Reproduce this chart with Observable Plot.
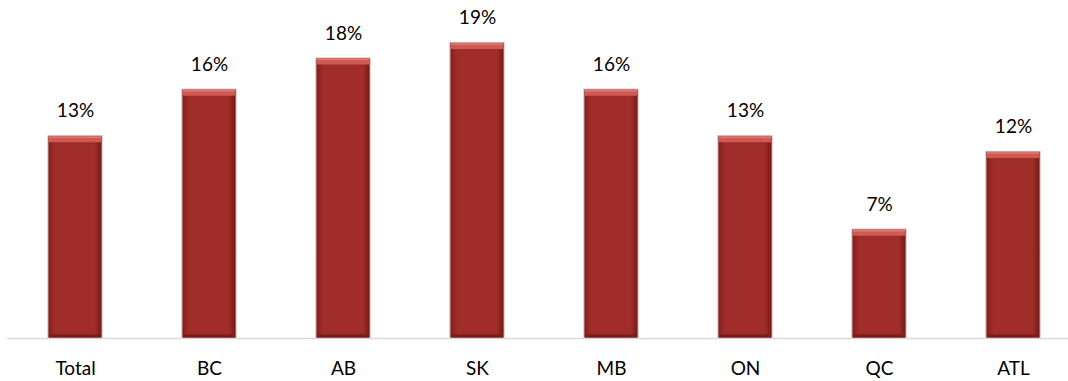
<!DOCTYPE html>
<html>
<head>
<meta charset="utf-8">
<script src="https://cdn.jsdelivr.net/npm/d3@7"></script>
<script src="https://cdn.jsdelivr.net/npm/@observablehq/plot@0.6"></script>
<style>
  html, body { margin: 0; padding: 0; background: #fff; }
  #chart svg { display: block; }
</style>
</head>
<body>
<div id="chart"></div>
<script>
const regions = ["Total", "BC", "AB", "SK", "MB", "ON", "QC", "ATL"];
const shares = [13, 16, 18, 19, 16, 13, 7, 12];
const labels = ["13%", "16%", "18%", "19%", "16%", "13%", "7%", "12%"];

const data = regions.map((r, i) => ({region: r, value: shares[i], label: labels[i]}));

const font = "Lato, 'Open Sans', sans-serif";

const chart = Plot.plot({
  width: 1068,
  height: 381,
  marginTop: 27,
  marginBottom: 43,
  marginLeft: 7,
  marginRight: 0,
  style: {fontFamily: font, background: "#fff"},
  x: {domain: regions, range: [6.4, 1080.6], paddingInner: 0.6, paddingOuter: 0.3, align: 0.5, label: null},
  y: {domain: [0, 20], axis: null},
  marks: [
    Plot.barY(data, {x: "region", y: "value", fill: "url(#barGrad)", stroke: "#c9a7a4", strokeWidth: 1}),
    Plot.tickY(data, {x: "region", y: "value", stroke: "#cf5a53", strokeWidth: 6, dy: 3, inset: 1}),
    Plot.tickY(data, {x: "region", y: "value", stroke: "#e07a72", strokeWidth: 1.5, dy: 1, inset: 1}),
    Plot.tickY(data, {x: "region", y: 0, stroke: "#7a1c1a", strokeWidth: 4, dy: -2, inset: 1}),
    Plot.text(data, {x: "region", y: "value", text: "label", dy: -25, fontSize: 19, fill: "#000", fontFamily: font}),
    Plot.ruleY([0], {stroke: "#d9d9d9", strokeWidth: 1.5}),
    Plot.axisX({tickSize: 0, tickPadding: 0, dy: 23, fontSize: 19, fill: "#000", fontFamily: font, label: null})
  ]
});

const defs = d3.select(chart).insert("defs", ":first-child");
const g = defs.append("linearGradient").attr("id", "barGrad").attr("x1", "0").attr("x2", "1").attr("y1", "0").attr("y2", "0");
[["0%", "#7d1e1c"], ["10%", "#9a2a27"], ["14%", "#a02d29"], ["86%", "#a02d29"], ["90%", "#962824"], ["100%", "#6e1816"]]
  .forEach(([o, c]) => g.append("stop").attr("offset", o).attr("stop-color", c));

document.getElementById("chart").appendChild(chart);
</script>
</body>
</html>
